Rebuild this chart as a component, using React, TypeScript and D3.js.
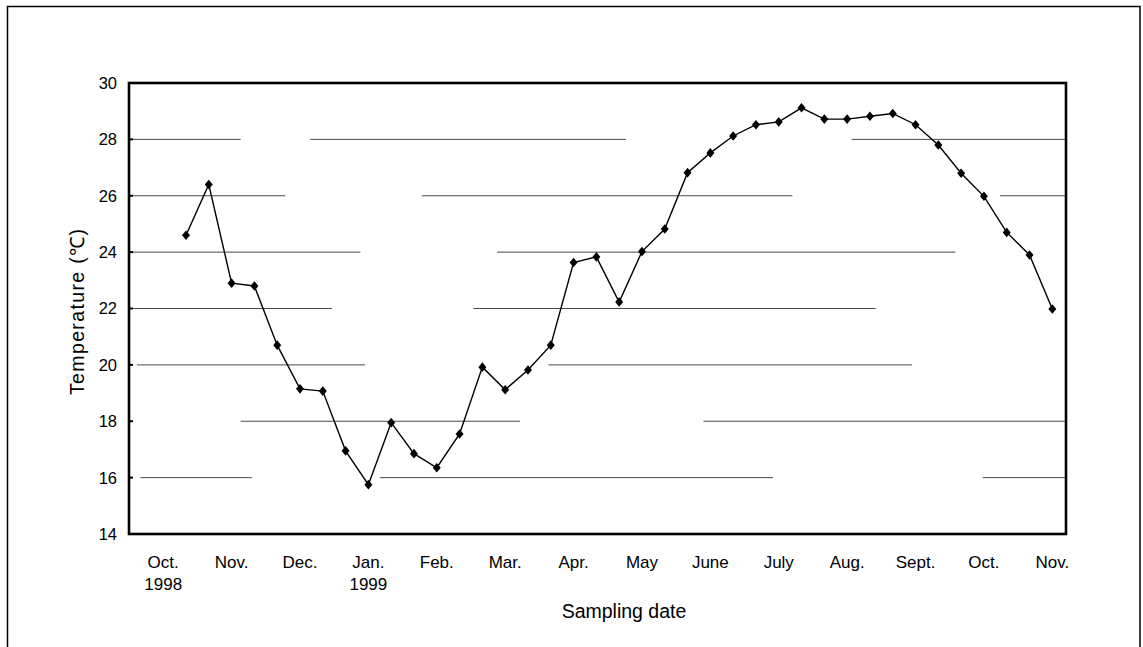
import React from "react";
import * as d3 from "d3";

// Month labels along the sampling axis (one every third sample)
const monthLabels = ["Oct.", "Nov.", "Dec.", "Jan.", "Feb.", "Mar.", "Apr.", "May", "June", "July", "Aug.", "Sept.", "Oct.", "Nov."];
const yearLabels: Record<number, string> = { 0: "1998", 3: "1999" };

// Water temperature (°C), sampled roughly every ten days from late Oct. 1998
const temperature = [
  24.6, 26.4, 22.9, 22.8, 20.7, 19.15, 19.07, 16.95, 15.75, 17.95,
  16.85, 16.35, 17.55, 19.92, 19.12, 19.82, 20.7, 23.63, 23.83, 22.23,
  24.02, 24.82, 26.82, 27.52, 28.12, 28.52, 28.62, 29.12, 28.72, 28.72,
  28.82, 28.92, 28.52, 27.8, 26.8, 25.98, 24.7, 23.9, 21.98,
];

const yTicks = [14, 16, 18, 20, 22, 24, 26, 28, 30];

// Visible pieces of each horizontal rule, in sample-index units
const gridPieces: [number, [number, number][]][] = [
  [28, [[-1.5, 3.4], [6.45, 20.3], [30.2, 39.6]]],
  [26, [[-1.5, 5.35], [11.35, 27.6], [36.7, 39.6]]],
  [24, [[-1.5, 8.65], [14.65, 34.75]]],
  [22, [[-1.5, 7.4], [13.6, 31.25]]],
  [20, [[-1.15, 8.85], [16.9, 32.85]]],
  [18, [[3.4, 15.65], [23.7, 39.6]]],
  [16, [[-1.0, 3.9], [9.5, 26.75], [35.95, 39.6]]],
];

const W = 1143;
const H = 647;
const plot = { left: 129, right: 1066, top: 83, bottom: 534 };
const font = "'Liberation Sans', Arial, Helvetica, sans-serif";

export default function App() {
  const x = d3.scaleLinear().domain([-1.5, 39.6]).range([plot.left, plot.right]);
  const y = d3.scaleLinear().domain([14, 30]).range([plot.bottom, plot.top]);

  const points = temperature.map((v, i) => ({ i: i + 1, v }));
  const line = d3
    .line<{ i: number; v: number }>()
    .x((d) => x(d.i))
    .y((d) => y(d.v));

  const diamond = (cx: number, cy: number) =>
    `M${cx},${cy - 4.8}L${cx + 4},${cy}L${cx},${cy + 4.8}L${cx - 4},${cy}Z`;

  return (
    <svg
      width={W}
      height={H}
      style={{ position: "absolute", left: 0, top: 0, background: "#fff" }}
    >
      {/* outer frame */}
      <rect x={7.5} y={6.5} width={1132.5} height={700} fill="none" stroke="#000" strokeWidth={1.5} />

      {/* horizontal rules */}
      {gridPieces.map(([v, pieces]) =>
        pieces.map(([a, b], k) => (
          <line
            key={`${v}-${k}`}
            x1={x(a)}
            x2={x(b)}
            y1={y(v)}
            y2={y(v)}
            stroke="#4a4a4a"
            strokeWidth={1}
          />
        ))
      )}

      {/* inward ticks on the value axis */}
      {yTicks.map((t) => (
        <line key={t} x1={plot.left} x2={plot.left + 4} y1={y(t)} y2={y(t)} stroke="#000" strokeWidth={2} />
      ))}

      {/* plot frame */}
      <rect
        x={plot.left}
        y={plot.top}
        width={plot.right - plot.left}
        height={plot.bottom - plot.top}
        fill="none"
        stroke="#000"
        strokeWidth={2.6}
      />

      {/* y tick labels */}
      {yTicks.map((t) => (
        <text
          key={t}
          x={117}
          y={y(t)}
          dy="0.36em"
          textAnchor="end"
          fontFamily={font}
          fontSize={16.5}
          fill="#000"
        >
          {t}
        </text>
      ))}

      {/* month labels */}
      {monthLabels.map((m, k) => (
        <g key={k}>
          <text
            x={x(k * 3)}
            y={568}
            textAnchor="middle"
            fontFamily={font}
            fontSize={17}
            fill="#000"
          >
            {m}
          </text>
          {yearLabels[k] && (
            <text x={x(k * 3)} y={590} textAnchor="middle" fontFamily={font} fontSize={17} fill="#000">
              {yearLabels[k]}
            </text>
          )}
        </g>
      ))}

      {/* axis titles */}
      <text
        transform="translate(84,312) rotate(-90)"
        textAnchor="middle"
        fontFamily={font}
        fontSize={19.5}
        textLength={166}
        lengthAdjust="spacing"
        fill="#000"
      >
        Temperature (℃)
      </text>
      <text x={624} y={618} textAnchor="middle" fontFamily={font} fontSize={19.5} fill="#000">
        Sampling date
      </text>

      {/* series */}
      <path d={line(points) ?? ""} fill="none" stroke="#000" strokeWidth={1.4} />
      {points.map((p) => (
        <path key={p.i} d={diamond(x(p.i), y(p.v))} fill="#000" />
      ))}
    </svg>
  );
}
